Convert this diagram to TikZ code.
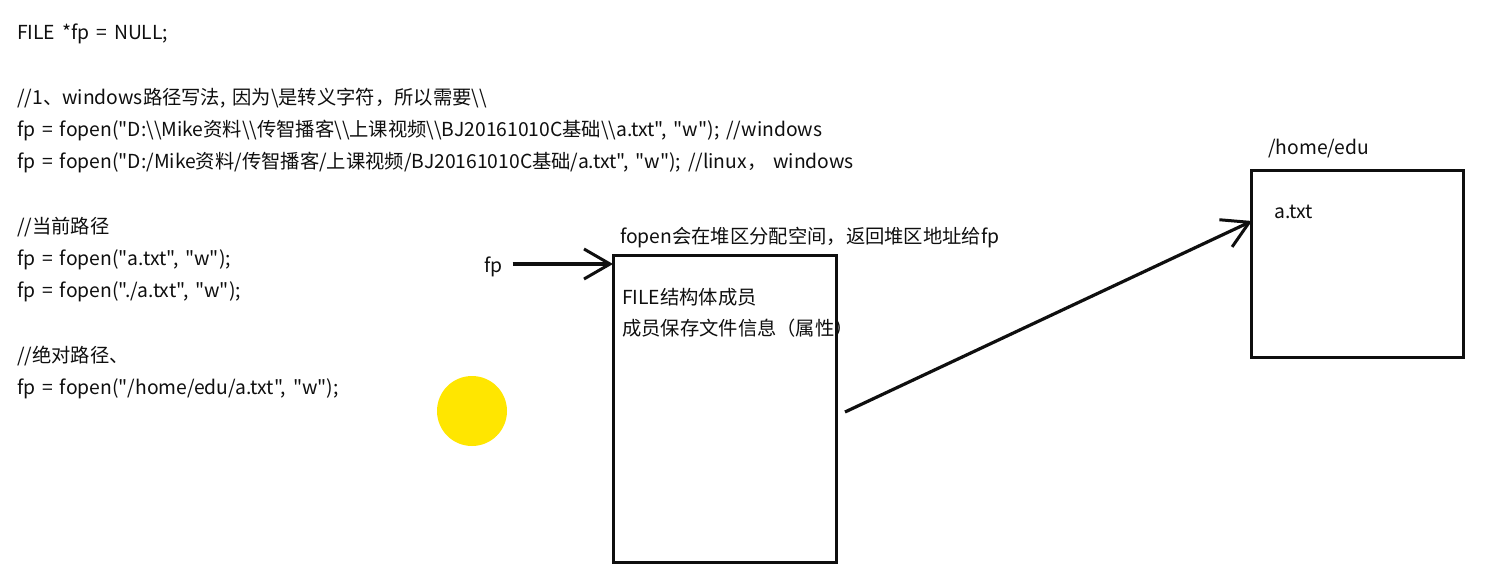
\documentclass[tikz,border=0pt]{standalone}
\usepackage{fontspec}
\setmainfont{Noto Sans CJK SC}[Ligatures=TeXOff,WordSpace=1.6]
\usetikzlibrary{arrows.meta,positioning}
\definecolor{cursorcol}{RGB}{255,230,0}
\definecolor{inkcol}{RGB}{15,15,15}
\newcommand{\bsl}{\textbackslash}
\tikzset{
  codeline/.style={anchor=base west,inner sep=0pt,text=inkcol,font=\fontsize{19.3}{21}\selectfont},
  memblock/.style={draw=inkcol,line width=3pt,inner sep=0pt},
  handarrow/.style={draw=inkcol,line width=3.2pt,-{Straight Barb[length=26pt,width=30pt,line width=3pt]}}
}
\begin{document}
\begin{tikzpicture}[x=1pt,y=-1pt]
    \useasboundingbox (0,0) rectangle (1485,571);
    \fill[white] (0,0) rectangle (1485,571);
    \node[codeline] (l0) at (17,39) {FILE *fp = NULL;};
    \node[codeline] (l1) at (17,104) {//1、windows路径写法, 因为\bsl 是转义字符，所以需要\bsl\bsl};
    \node[codeline] (l2) at (17,136) {fp = fopen("D:\bsl\bsl Mike资料\bsl\bsl 传智播客\bsl\bsl 上课视频\bsl\bsl BJ20161010C基础\bsl\bsl a.txt", "w"); //windows};
    \node[codeline] (l3) at (17,168) {fp = fopen("D:/Mike资料/传智播客/上课视频/BJ20161010C基础/a.txt", "w"); //linux， windows};
    \node[codeline] (l4) at (17,233) {//当前路径};
    \node[codeline] (l5) at (17,265) {fp = fopen("a.txt", "w");};
    \node[codeline] (l6) at (17,297) {fp = fopen("./a.txt", "w");};
    \node[codeline] (l7) at (17,362) {//绝对路径、};
    \node[codeline] (l8) at (17,394) {fp = fopen("/home/edu/a.txt", "w");};
    \node[circle,fill=cursorcol,minimum size=70pt,inner sep=0pt] (cursor) at (472,411) {};
    \node[memblock,minimum width=223pt,minimum height=307pt] (heap) at (724.5,408.5) {};
    \node[memblock,minimum width=212pt,minimum height=187pt] (dir) at (1357,263.5) {};
    \node[codeline] (heapnote) at (620,243) {fopen会在堆区分配空间，返回堆区地址给fp};
    \node[codeline] (member1) at (622,304) {FILE结构体成员};
    \node[codeline] (member2) at (622,335) {成员保存文件信息（属性）};
    \node[codeline] (dirname) at (1268,154) {/home/edu};
    \node[codeline] (afile) at (1274,218) {a.txt};
    \node[codeline] (fp) at (484,272) {fp};
    \coordinate (fpin) at (613,264);
    \coordinate (heaptail) at (845,412);
    \coordinate (dirin) at (1252,221);
    \draw[handarrow] (fp.east |- fpin) ++(10,0) -- (fpin);
    \draw[handarrow] (heaptail) -- (dirin);
\end{tikzpicture}
\end{document}
